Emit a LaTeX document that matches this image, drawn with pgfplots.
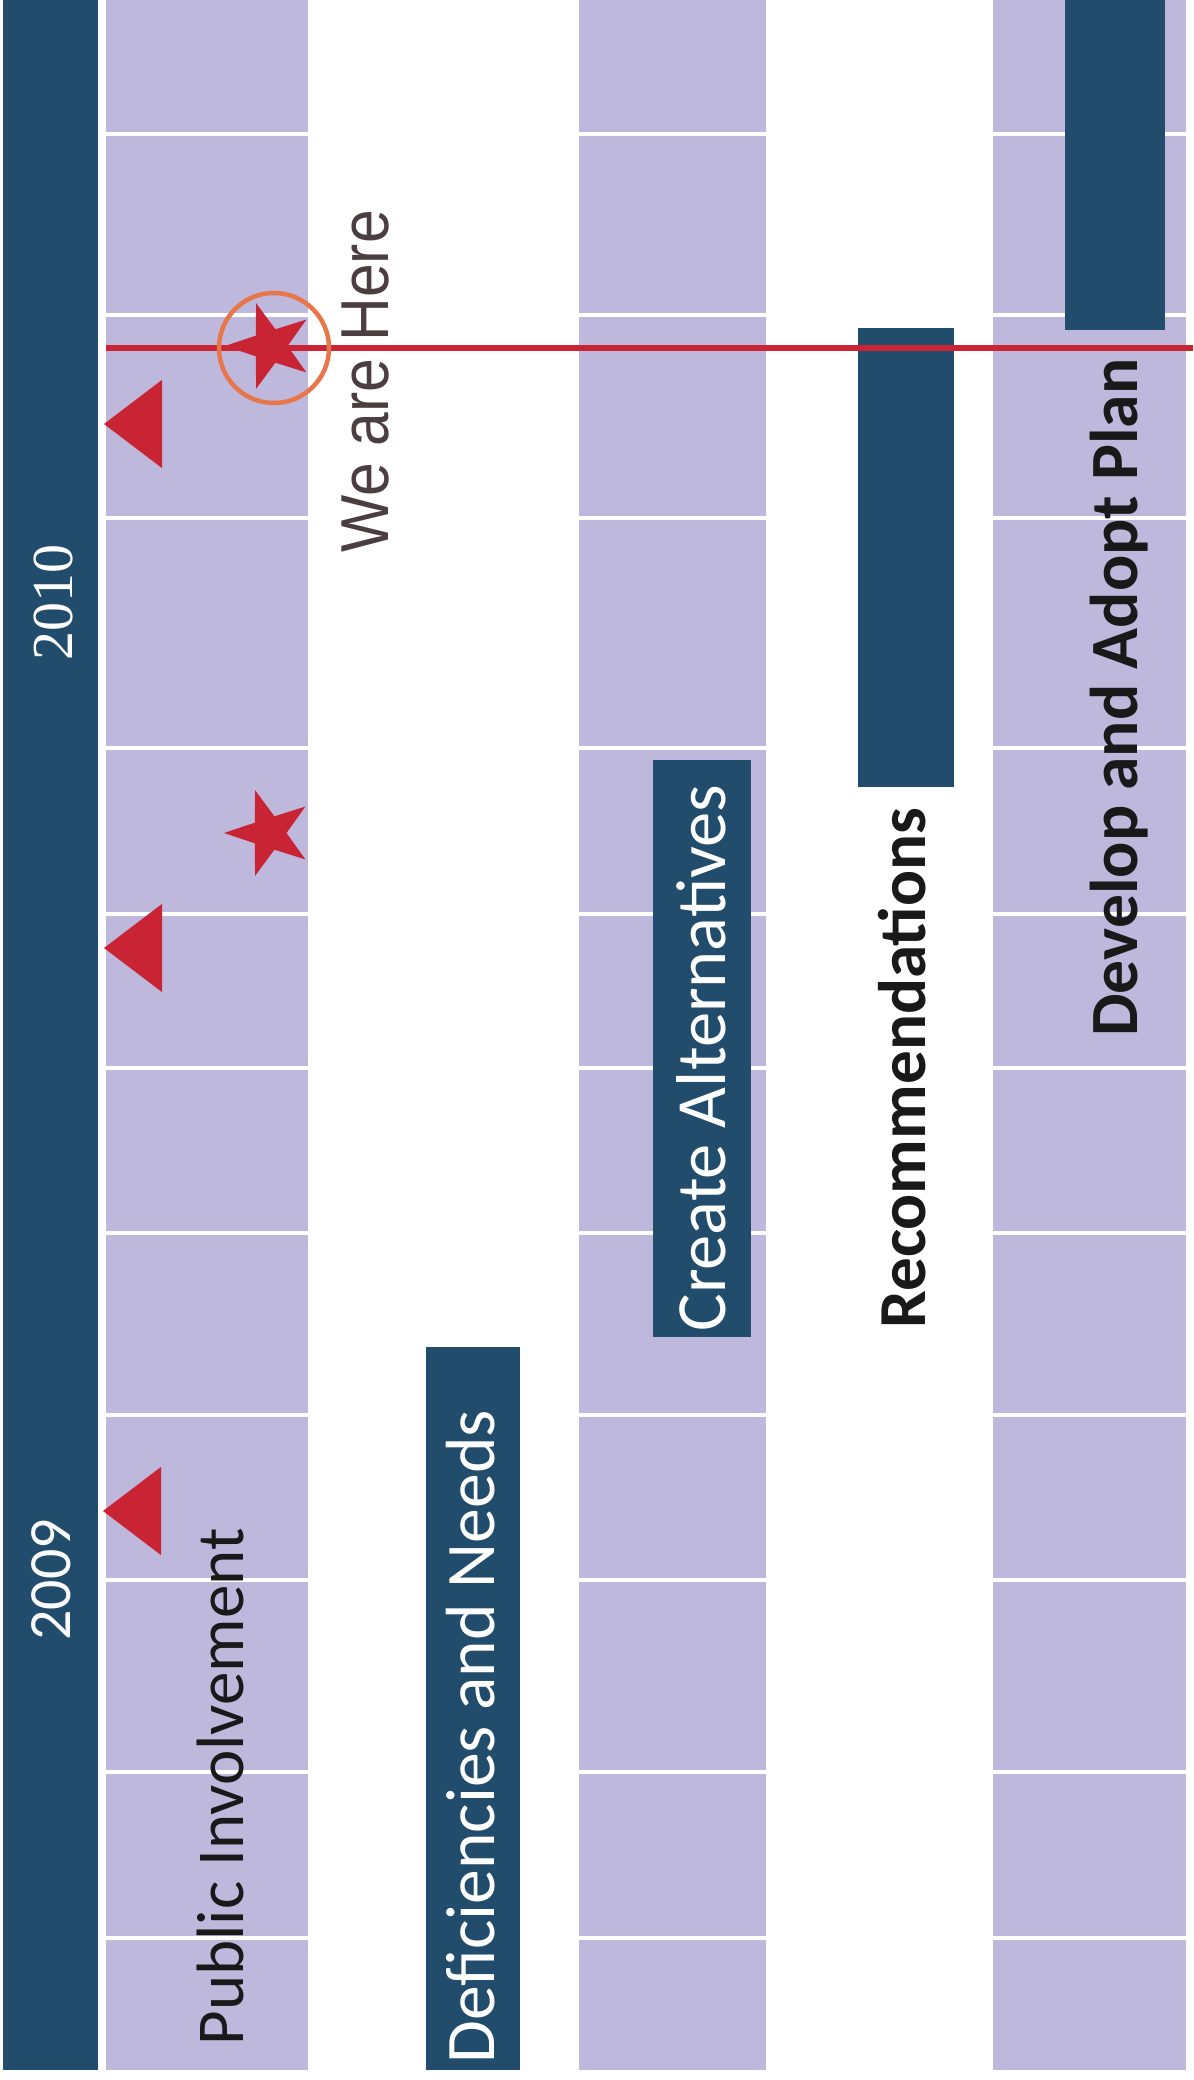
\documentclass[border=0pt]{standalone}
\usepackage{pgfplots}
\pgfplotsset{compat=1.18}
\usepackage{fontspec}
\setmainfont{Carlito}
\newfontfamily\arialf{Liberation Sans}
\newfontfamily\timesf{Liberation Serif}
\definecolor{navy}{RGB}{33,76,108}
\definecolor{lav}{RGB}{190,184,221}
\definecolor{mred}{RGB}{200,36,52}
\definecolor{orng}{RGB}{232,118,72}
\definecolor{heretxt}{RGB}{75,62,64}
% filled five-point star pointing left
\pgfdeclareplotmark{fstar}{%
  \pgfpathmoveto{\pgfpointpolar{180}{\pgfplotmarksize}}%
  \pgfpathlineto{\pgfpointpolar{216}{0.39\pgfplotmarksize}}%
  \pgfpathlineto{\pgfpointpolar{252}{\pgfplotmarksize}}%
  \pgfpathlineto{\pgfpointpolar{288}{0.39\pgfplotmarksize}}%
  \pgfpathlineto{\pgfpointpolar{324}{\pgfplotmarksize}}%
  \pgfpathlineto{\pgfpointpolar{0}{0.39\pgfplotmarksize}}%
  \pgfpathlineto{\pgfpointpolar{36}{\pgfplotmarksize}}%
  \pgfpathlineto{\pgfpointpolar{72}{0.39\pgfplotmarksize}}%
  \pgfpathlineto{\pgfpointpolar{108}{\pgfplotmarksize}}%
  \pgfpathlineto{\pgfpointpolar{144}{0.39\pgfplotmarksize}}%
  \pgfpathclose
  \pgfusepathqfill}
% filled triangle pointing left
\pgfdeclareplotmark{ltri}{%
  \pgfpathmoveto{\pgfpoint{-1\pgfplotmarksize}{0pt}}%
  \pgfpathlineto{\pgfpoint{\pgfplotmarksize}{1.52\pgfplotmarksize}}%
  \pgfpathlineto{\pgfpoint{\pgfplotmarksize}{-1.52\pgfplotmarksize}}%
  \pgfpathclose
  \pgfusepathqfill}
\begin{document}
\begin{tikzpicture}
\begin{axis}[
  scale only axis, width=596.5pt, height=1040pt,
  xmin=0, xmax=1193, ymin=0, ymax=2080, y dir=reverse,
  hide axis, clip=true,
]
% background
\addplot[fill=white, draw=none] coordinates {(0,0) (1193,0) (1193,2080) (0,2080)};
% lavender rows
\addplot[fill=lav, draw=none] coordinates {(106,0) (308,0) (308,2070) (106,2070)};
\addplot[fill=lav, draw=none] coordinates {(579,0) (766,0) (766,2070) (579,2070)};
\addplot[fill=lav, draw=none] coordinates {(993,0) (1186,0) (1186,2070) (993,2070)};
% month grid lines
\pgfplotsinvokeforeach{134,315,518,748,914,1068,1233,1415,1580,1772,1938}{
  \addplot[white, line width=1.75pt] coordinates {(0,#1) (1193,#1)};
}
% year header band
\addplot[fill=navy, draw=none] coordinates {(3,0) (98,0) (98,2070) (3,2070)};
% task bars
\addplot[fill=navy, draw=none] coordinates {(426,1347) (520,1347) (520,2070) (426,2070)};
\addplot[fill=navy, draw=none] coordinates {(653,760) (751,760) (751,1337) (653,1337)};
\addplot[fill=navy, draw=none] coordinates {(858,328) (954,328) (954,787) (858,787)};
\addplot[fill=navy, draw=none] coordinates {(1065,0) (1165,0) (1165,330) (1065,330)};
% today line
\addplot[mred, line width=2.9pt] coordinates {(106,348) (1193,348)};
% milestones: triangles
\addplot[only marks, mark=ltri, mark size=14.5pt, color=mred, fill=mred] coordinates {(133,424) (133,948) (132,1511)};
% stars
\addplot[only marks, mark=fstar, mark size=22.5pt, color=mred, fill=mred] coordinates {(270,346) (269,833)};
% circle around current star
\addplot[only marks, mark=o, mark size=27.5pt, mark options={draw=orng, line width=2.25pt, fill=none}] coordinates {(274,348)};
% labels
\node[rotate=90, anchor=base, inner sep=0, text=white, font=\timesf\fontsize{29}{34}\selectfont] at (axis cs:72,602) {2010};
\node[rotate=90, anchor=base, inner sep=0, text=white!93!lav, font=\fontsize{30}{36}\selectfont] at (axis cs:70,1580) {2009};
\node[rotate=90, anchor=base west, inner sep=0, text=black!90, font=\fontsize{33.5}{40}\selectfont] at (axis cs:243,2046) {Public Involvement};
\node[rotate=90, anchor=base west, inner sep=0, text=white, font=\fontsize{34.8}{40}\selectfont] at (axis cs:494,2064) {Deficiencies and Needs};
\node[rotate=90, anchor=base west, inner sep=0, text=white, font=\fontsize{35.3}{40}\selectfont] at (axis cs:725,1332) {Create Alternatives};
\node[rotate=90, anchor=base west, inner sep=0, text=black!90, font=\bfseries\fontsize{33.6}{40}\selectfont] at (axis cs:925,1329) {Recommendations};
\node[rotate=90, anchor=base west, inner sep=0, text=black!90, font=\bfseries\fontsize{33.8}{40}\selectfont] at (axis cs:1137,1037) {Develop and Adopt Plan};
\node[rotate=90, anchor=base west, inner sep=0, text=heretxt, font=\arialf\fontsize{30.3}{36}\selectfont] at (axis cs:388,553) {\scalebox{1}[1.12]{We are Here}};
\end{axis}
\end{tikzpicture}
\end{document}
